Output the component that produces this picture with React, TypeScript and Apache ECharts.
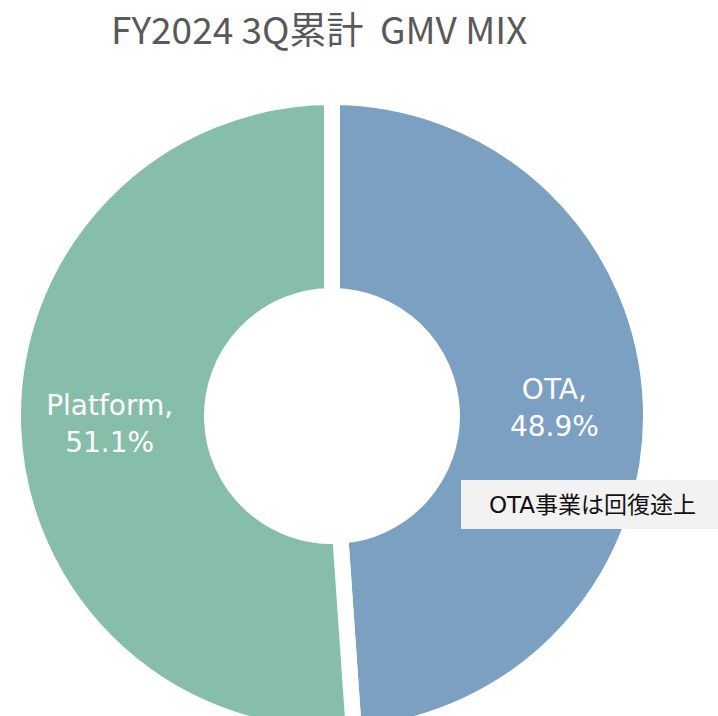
import React, { useEffect, useRef } from "react";
import * as echarts from "echarts";

const titleText = "FY2024 3Q累計  GMV MIX";
const categories = ["OTA", "Platform"];
const shares = [48.9, 51.1];
const colors = ["#7BA0C1", "#86BEAA"];
const noteText = "OTA事業は回復途上";

export default function App() {
  const ref = useRef<HTMLDivElement>(null);
  useEffect(() => {
    document.body.style.margin = "0";
    const chart = echarts.init(ref.current!, null, { renderer: "svg" });
    chart.setOption({
      animation: false,
      backgroundColor: "#ffffff",
      title: {
        text: titleText,
        left: 106,
        top: 4,
        textStyle: {
          fontFamily: "'Noto Sans CJK JP', 'Noto Sans', sans-serif",
          fontSize: 37,
          fontWeight: "normal",
          color: "#595959",
        },
      },
      series: [
        {
          type: "pie",
          center: [332, 416],
          radius: [120, 319],
          startAngle: 90,
          clockwise: true,
          avoidLabelOverlap: false,
          itemStyle: { borderColor: "#ffffff", borderWidth: 16 },
          label: {
            show: true,
            position: "inside",
            color: "#ffffff",
            fontFamily: "'DejaVu Sans', sans-serif",
            fontSize: 28,
            lineHeight: 37,
            formatter: (p: any) => `${p.name},\n${p.value}%`,
          },
          labelLine: { show: false },
          emphasis: { disabled: true },
          data: categories.map((c, i) => ({
            name: c,
            value: shares[i],
            itemStyle: { color: colors[i] },
          })),
        },
      ],
      graphic: [
        {
          type: "rect",
          shape: { x: 461, y: 480, width: 260, height: 49 },
          style: { fill: "#F2F2F2" },
          z: 10,
        },
        {
          type: "text",
          x: 489,
          y: 505,
          z: 11,
          style: {
            text: noteText,
            fill: "#111111",
            fontFamily: "'DejaVu Sans', 'Noto Sans CJK JP', sans-serif",
            fontSize: 23,
            verticalAlign: "middle",
          },
        },
      ],
    });
    return () => chart.dispose();
  }, []);
  return (
    <div
      ref={ref}
      style={{ position: "fixed", left: 0, top: 0, width: 718, height: 716 }}
    />
  );
}
